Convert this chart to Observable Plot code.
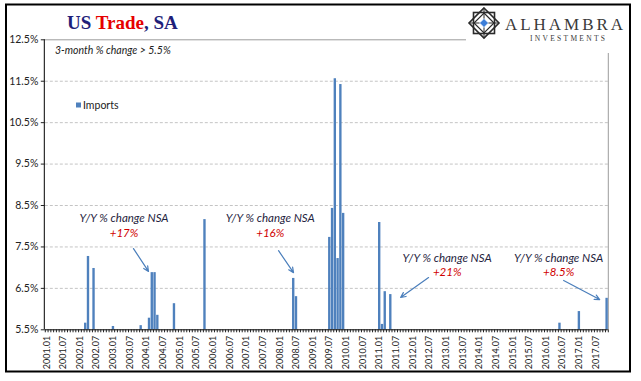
<!DOCTYPE html>
<html><head><meta charset="utf-8">
<script src="https://cdn.jsdelivr.net/npm/d3@7"></script>
<script src="https://cdn.jsdelivr.net/npm/@observablehq/plot@0.6"></script>
<style>
body{margin:0;background:#fff;}
#wrap{position:relative;width:641px;height:381px;overflow:hidden;background:#fff;}
#wrap svg{display:block;}
#overlay{position:absolute;left:0;top:0;pointer-events:none;}
</style>
</head><body>
<div id="wrap"></div>
<script>
// ---- data ----
const tickLabels = ["2001.01","2001.07","2002.01","2002.07","2003.01","2003.07","2004.01","2004.07",
  "2005.01","2005.07","2006.01","2006.07","2007.01","2007.07","2008.01","2008.07","2009.01","2009.07",
  "2010.01","2010.07","2011.01","2011.07","2012.01","2012.07","2013.01","2013.07","2014.01","2014.07",
  "2015.01","2015.07","2016.01","2016.07","2017.01","2017.07"];
const firstMonth = "2001.01";
const lastMonth = "2017.11";
const barMonths = ["2002.03","2002.04","2002.06","2003.01","2003.11","2004.02","2004.03","2004.04","2004.05",
  "2004.11","2005.10","2008.06","2008.07","2009.07","2009.08","2009.09","2009.10","2009.11","2009.12",
  "2011.01","2011.02","2011.03","2011.05","2016.06","2017.01","2017.11"];
const barValues = [5.66,7.27,6.98,5.58,5.60,5.78,6.88,6.88,5.85,
  6.13,8.16,6.74,6.30,7.73,8.43,11.56,7.22,11.42,8.31,
  8.09,5.63,6.42,6.35,5.66,5.94,6.26];
const yTicks = [5.5,6.5,7.5,8.5,9.5,10.5,11.5,12.5];
const seriesName = "Imports";
// annotations (data coordinates: month index, percent)
const annoHead = "Y/Y % change NSA";
const annoLabels = ["+17%","+16%","+21%","+8.5%"];
const annoX = [28.4, 81.1, 144.9, 185.1];
const annoHeadY = [8.19, 8.19, 7.22, 7.22];
const annoLabelY = [7.82, 7.82, 6.88, 6.88];
const arrowX1 = [31.8, 84.1, 138.2, 186.9];
const arrowY1 = [7.46, 7.41, 6.76, 6.69];
const arrowX2 = [37.2, 89.5, 128.1, 199.9];
const arrowY2 = [6.91, 6.88, 6.28, 6.23];

// ---- build ----
const idx = m => { const [y, mo] = m.split(".").map(Number); return (y - 2001) * 12 + mo - 1; };
const nMonths = idx(lastMonth) - idx(firstMonth) + 1;
const bars = barMonths.map((m, k) => ({i: idx(m), v: barValues[k]}));
const ticks = tickLabels.map(t => ({i: idx(t), t}));
const annos = annoLabels.map((l, k) => ({l, x: annoX[k], hy: annoHeadY[k], ly: annoLabelY[k],
  x1: arrowX1[k], y1: arrowY1[k], x2: arrowX2[k], y2: arrowY2[k]}));
const yBase = yTicks[0];
const grid = yTicks.slice(1, -1);
const yTop = yTicks[yTicks.length - 1];

const plot = Plot.plot({
  width: 641, height: 381,
  marginLeft: 44.8, marginRight: 33.2, marginTop: 39.3, marginBottom: 51.7,
  x: {type: "linear", domain: [0, nMonths]},
  y: {domain: [yBase, yTop]},
  style: {fontFamily: "Lato, sans-serif", fontSize: "10.5px", color: "#222", background: "white"},
  marks: [
    Plot.ruleY(grid, {stroke: "#c4c4c4", strokeDasharray: "3,2"}),
    Plot.ruleY([yTop], {stroke: "#9c9c9c"}),
    Plot.ruleX([nMonths], {stroke: "#9c9c9c"}),
    Plot.rect(bars, {x1: d => d.i, x2: d => d.i + 1, y1: yBase, y2: d => d.v, fill: "#4f81bd", insetLeft: 0.4}),
    Plot.ruleY([yBase], {stroke: "#000"}),
    Plot.ruleX([0], {stroke: "#000", dx: -1}),
    Plot.axisY({ticks: yTicks, tickFormat: d => d.toFixed(1) + "%", tickSize: 4, tickPadding: 3, label: null, fill: "#222"}),
    Plot.axisX({ticks: d3.range(0, nMonths + 1), tickSize: 3, tickFormat: () => "", label: null}),
    Plot.text(ticks, {x: d => d.i + 0.5, y: yBase, text: d => d.t, rotate: -90, textAnchor: "end", dy: 6, fontSize: 9, fill: "#222"}),
    Plot.arrow(annos, {x1: "x1", y1: "y1", x2: "x2", y2: "y2", stroke: "#4a7ebb", strokeWidth: 1.2, headLength: 7, headAngle: 50}),
    Plot.text(annos, {x: "x", y: "hy", text: () => annoHead, fontStyle: "italic", fontSize: 11.5, fill: "#1f2440"}),
    Plot.text(annos, {x: "x", y: "ly", text: "l", fontStyle: "italic", fontSize: 11.5, fill: "#d00000"})
  ]
});
const wrap = document.getElementById("wrap");
wrap.appendChild(plot);

// overlay: frame, title, subtitle, legend, logo
const NS = "http://www.w3.org/2000/svg";
const ov = document.createElementNS(NS, "svg");
ov.setAttribute("id", "overlay");
ov.setAttribute("width", 641); ov.setAttribute("height", 381);
ov.innerHTML = `
  <rect x="466" y="6" width="163" height="47" fill="#fff"/>
  <rect x="6" y="4.5" width="624" height="367" fill="none" stroke="#000" stroke-width="2"/>
  <text x="67" y="29" font-family="Liberation Serif, serif" font-weight="bold" font-size="19">
    <tspan fill="#1f1f7a">US </tspan><tspan fill="#e60000">Trade</tspan><tspan fill="#1f1f7a">, SA</tspan>
  </text>
  <text x="55" y="53.5" font-family="Lato, sans-serif" font-style="italic" font-size="10.5" fill="#222">3-month % change &gt; 5.5%</text>
  <rect x="76" y="102.5" width="5" height="5" fill="#4f81bd"/>
  <text x="83" y="109" font-family="Lato, sans-serif" font-size="10.5" fill="#222">${seriesName}</text>
  <g stroke="#2a2a2a" fill="none" stroke-width="1.6">
    <polygon points="484,8 499,23 484,38 469,23"/>
    <rect x="473.5" y="12.5" width="21" height="21"/>
    <polygon points="484,13 494,23 484,33 474,23" stroke-width="1.2"/>
    <line x1="469" y1="23" x2="499" y2="23" stroke-width="1"/>
    <line x1="484" y1="8" x2="484" y2="38" stroke-width="1"/>
  </g>
  <polygon points="484,18.5 488.5,23 484,27.5 479.5,23" fill="#3b7dd8" stroke="#fff" stroke-width="0.8"/>
  <text x="505" y="29.5" font-family="Liberation Serif, serif" font-size="17" fill="#3a3a3a" textLength="118" lengthAdjust="spacing">ALHAMBRA</text>
  <text x="530" y="40.5" font-family="Liberation Serif, serif" font-size="7.5" fill="#3a3a3a" textLength="75" lengthAdjust="spacing">INVESTMENTS</text>
`;
wrap.appendChild(ov);
</script>
</body></html>
